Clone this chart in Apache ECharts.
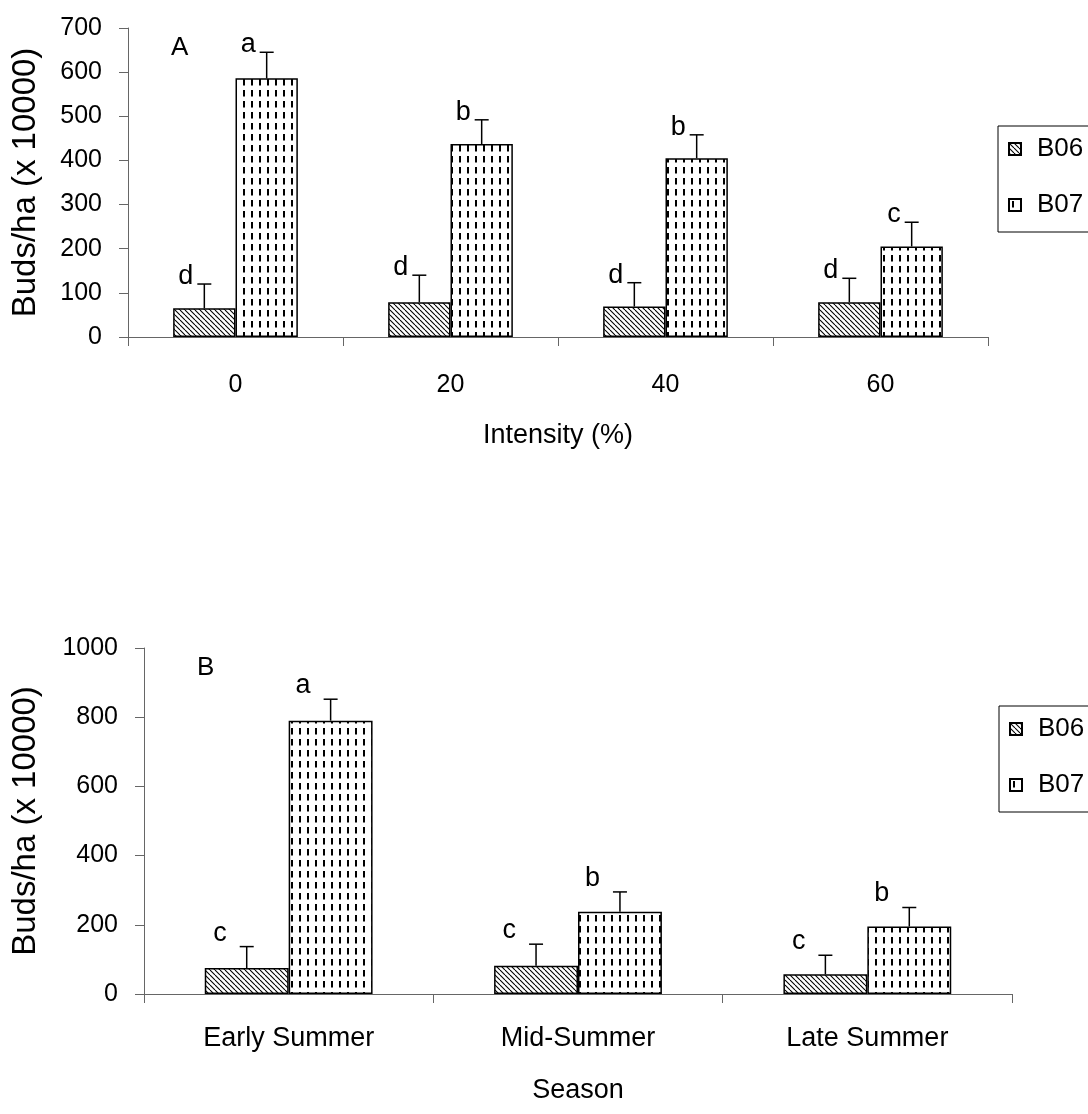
<!DOCTYPE html>
<html><head><meta charset="utf-8">
<script src="https://cdn.jsdelivr.net/npm/echarts@6/dist/echarts.min.js"></script>
<style>html,body{margin:0;padding:0;background:#fff}#c{width:1088px;height:1114px}</style>
</head><body><div id="c"></div>
<script>
// ---- data ----
const categoriesA = ['0', '20', '40', '60'];
const b06A = [65, 79, 69, 79];
const b06AErr = [55, 61, 54, 54];
const b06ALetters = ['d', 'd', 'd', 'd'];
const b07A = [586, 437, 405, 205];
const b07AErr = [59, 55, 53, 55];
const b07ALetters = ['a', 'b', 'b', 'c'];

const categoriesB = ['Early Summer', 'Mid-Summer', 'Late Summer'];
const b06B = [75, 82, 57];
const b06BErr = [62, 62, 55];
const b06BLetters = ['c', 'c', 'c'];
const b07B = [790, 238, 195];
const b07BErr = [62, 57, 55];
const b07BLetters = ['a', 'b', 'b'];

const ticksA = [0, 100, 200, 300, 400, 500, 600, 700];
const ticksB = [0, 200, 400, 600, 800, 1000];

// ---- patterns ----
function hatch() {
  const s = 5, c = document.createElement('canvas');
  c.width = s; c.height = s;
  const g = c.getContext('2d');
  g.fillStyle = '#fff'; g.fillRect(0, 0, s, s);
  g.strokeStyle = '#000'; g.lineWidth = 1.1;
  for (let k = -1; k <= 1; k++) {
    g.beginPath(); g.moveTo(k * s, 0); g.lineTo(k * s + s, s); g.stroke();
  }
  return c;
}
function dashes() {
  const w = 8, h = 11, c = document.createElement('canvas');
  c.width = w; c.height = h;
  const g = c.getContext('2d');
  g.fillStyle = '#fff'; g.fillRect(0, 0, w, h);
  g.fillStyle = '#000';
  g.fillRect(3, 2, 2, 6.5);
  return c;
}
const patHatch = { image: hatch(), repeat: 'repeat' };
const patDash = { image: dashes(), repeat: 'repeat' };

const FONT = '"Liberation Sans", Arial, sans-serif';
const BW = 0.29;

function errSeries(gridIdx, vals, errs, letters, side, dx, dy) {
  return {
    type: 'custom', xAxisIndex: gridIdx, yAxisIndex: gridIdx, z: 5, silent: true,
    data: vals.map((v, i) => [i, v, errs[i]]),
    renderItem: function (params, api) {
      const i = params.dataIndex;
      const band = api.size([1, 0])[0];
      const base = api.coord([api.value(0), api.value(1)]);
      const top = api.coord([api.value(0), api.value(1) + api.value(2)]);
      const x = base[0] + side * band * BW / 2;
      return {
        type: 'group', children: [
          { type: 'line', shape: { x1: x, y1: base[1], x2: x, y2: top[1] }, style: { stroke: '#000', lineWidth: 1.5 } },
          { type: 'line', shape: { x1: x - 7, y1: top[1], x2: x + 7, y2: top[1] }, style: { stroke: '#000', lineWidth: 1.5 } },
          { type: 'text', x: x + dx, y: top[1] + dy, style: { text: letters[i], fontSize: 27, fontFamily: FONT, fill: '#000', align: 'right', verticalAlign: 'bottom' } }
        ]
      };
    }
  };
}

const axisCommonY = {
  axisLine: { show: true, lineStyle: { color: '#666', width: 1 } },
  axisTick: { show: true, length: 9, lineStyle: { color: '#666' } },
  axisLabel: { margin: 26, fontSize: 25, color: '#000', fontFamily: FONT, formatter: (v) => String(v) },
  splitLine: { show: false },
  nameLocation: 'middle',
  nameTextStyle: { fontSize: 33, color: '#000', fontFamily: FONT }
};
const axisCommonX = {
  type: 'category',
  axisLine: { lineStyle: { color: '#666', width: 1 } },
  axisTick: { show: true, length: 9, lineStyle: { color: '#666' } },
  axisLabel: { fontSize: 25, color: '#000', fontFamily: FONT },
  nameLocation: 'middle',
  nameTextStyle: { fontSize: 27, color: '#000', fontFamily: FONT }
};
const legendCommon = {
  orient: 'vertical', data: ['B06', 'B07'], selectedMode: false,
  borderColor: '#000', borderWidth: 1, itemGap: 30, itemWidth: 12, itemHeight: 12,
  padding: [10, 40, 14, 10], icon: 'rect',
  textStyle: { fontSize: 26, color: '#000', fontFamily: FONT, padding: [0, 0, 0, 11] }
};
const barStyle = (pat) => ({ color: pat, borderColor: '#000', borderWidth: 1.5 });

const option = {
  animation: false,
  backgroundColor: '#fff',
  textStyle: { fontFamily: FONT },
  title: [
    { text: 'A', left: 166, top: 30, textStyle: { fontSize: 26, fontWeight: 'normal', color: '#000', fontFamily: FONT } },
    { text: 'B', left: 192, top: 650, textStyle: { fontSize: 26, fontWeight: 'normal', color: '#000', fontFamily: FONT } }
  ],
  legend: [
    Object.assign({}, legendCommon, { left: 998, top: 126 }),
    Object.assign({}, legendCommon, { left: 999, top: 706 })
  ],
  grid: [
    { left: 128, top: 28, width: 860, height: 309 },
    { left: 144, top: 648, width: 868, height: 346 }
  ],
  xAxis: [
    Object.assign({}, axisCommonX, { gridIndex: 0, data: categoriesA, name: 'Intensity (%)', nameGap: 85,
      axisLabel: Object.assign({}, axisCommonX.axisLabel, { margin: 36 }) }),
    Object.assign({}, axisCommonX, { gridIndex: 1, data: categoriesB, name: 'Season', nameGap: 83,
      axisLabel: Object.assign({}, axisCommonX.axisLabel, { margin: 31, fontSize: 27 }) })
  ],
  yAxis: [
    Object.assign({}, axisCommonY, { gridIndex: 0, type: 'value', min: ticksA[0], max: ticksA[ticksA.length - 1], interval: ticksA[1] - ticksA[0], name: 'Buds/ha (x 10000)', nameGap: 86 }),
    Object.assign({}, axisCommonY, { gridIndex: 1, type: 'value', min: ticksB[0], max: ticksB[ticksB.length - 1], interval: ticksB[1] - ticksB[0], name: 'Buds/ha (x 10000)', nameGap: 102 })
  ],
  series: [
    { name: 'B06', type: 'bar', xAxisIndex: 0, yAxisIndex: 0, data: b06A, barWidth: '29%', barGap: '0%', itemStyle: barStyle(patHatch) },
    { name: 'B07', type: 'bar', xAxisIndex: 0, yAxisIndex: 0, data: b07A, barWidth: '29%', barGap: '0%', itemStyle: barStyle(patDash) },
    { name: 'B06', type: 'bar', xAxisIndex: 1, yAxisIndex: 1, data: b06B, barWidth: '29%', barGap: '0%', itemStyle: barStyle(patHatch) },
    { name: 'B07', type: 'bar', xAxisIndex: 1, yAxisIndex: 1, data: b07B, barWidth: '29%', barGap: '0%', itemStyle: barStyle(patDash) },
    errSeries(0, b06A, b06AErr, b06ALetters, -1, -11, 6),
    errSeries(0, b07A, b07AErr, b07ALetters, 1, -11, 6),
    errSeries(1, b06B, b06BErr, b06BLetters, -1, -20, 0),
    errSeries(1, b07B, b07BErr, b07BLetters, 1, -20, 0)
  ]
};
const chart = echarts.init(document.getElementById('c'), null, { renderer: 'canvas' });
chart.setOption(option);
</script>
</body></html>
